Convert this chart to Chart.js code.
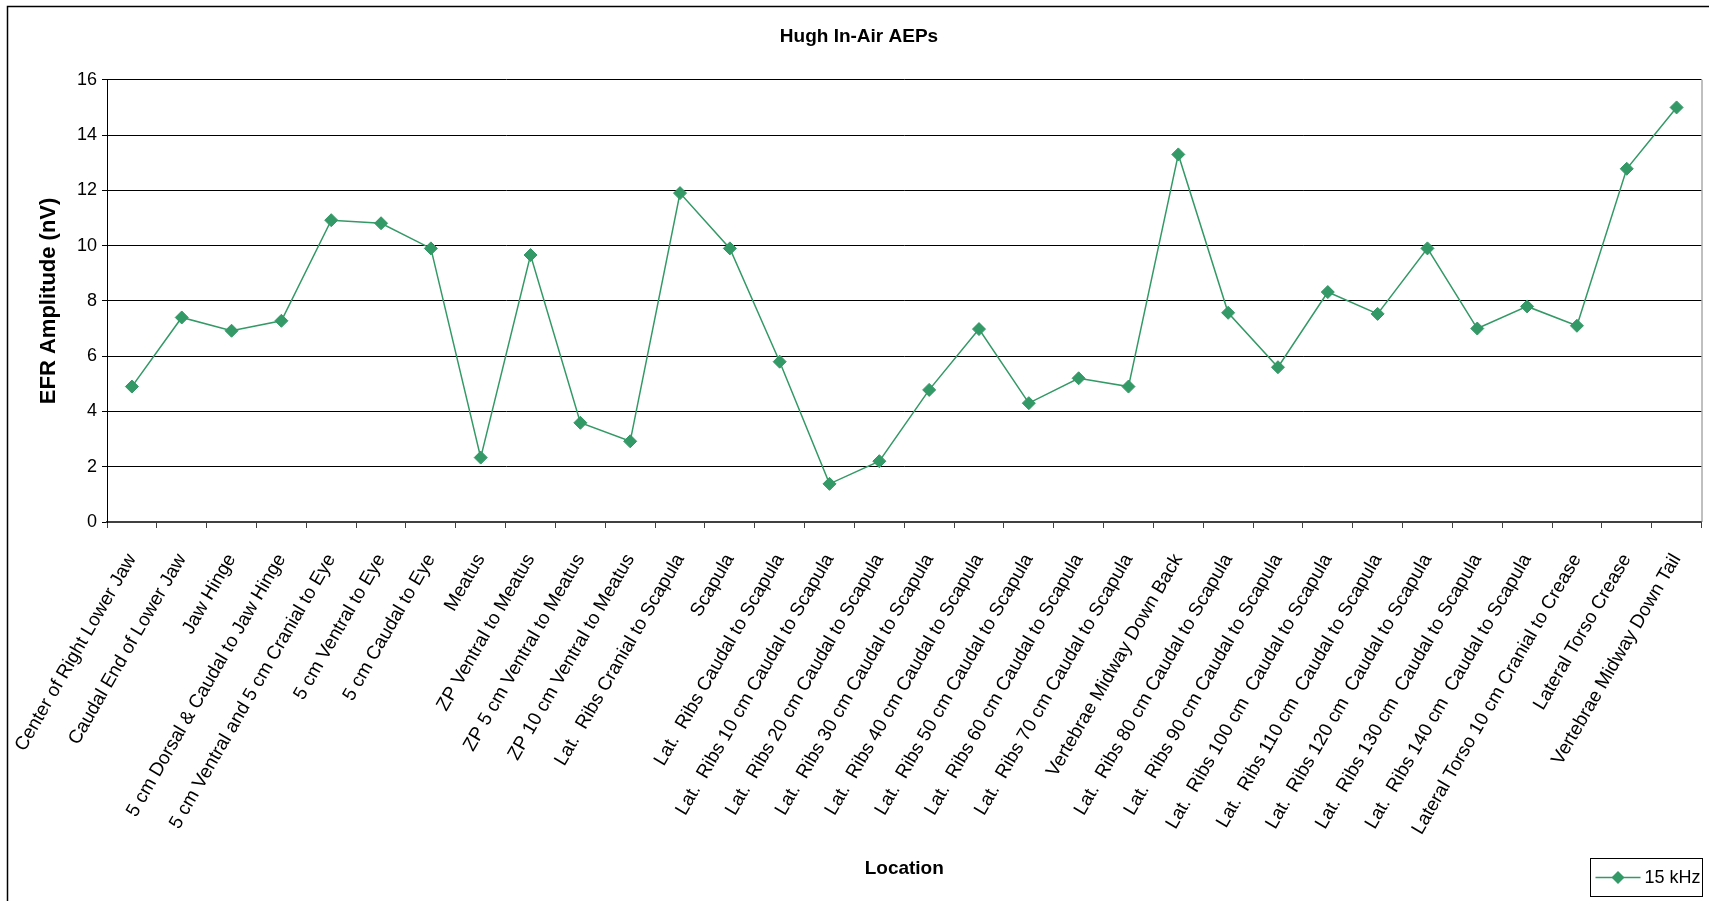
<!DOCTYPE html>
<html>
<head>
<meta charset="utf-8">
<script src="https://cdn.jsdelivr.net/npm/chart.js@4"></script>
<style>
  html, body { margin: 0; padding: 0; background: #fff; }
  #wrap { width: 1709px; height: 901px; }
</style>
</head>
<body>
<div id="wrap"><canvas id="aepChart"></canvas></div>
<script>
const locations = [
    'Center of Right Lower Jaw',
    'Caudal End of Lower Jaw',
    'Jaw Hinge',
    '5 cm Dorsal & Caudal to Jaw Hinge',
    '5 cm Ventral and 5 cm Cranial to Eye',
    '5 cm Ventral to Eye',
    '5 cm Caudal to Eye',
    'Meatus',
    'ZP Ventral to Meatus',
    'ZP 5 cm Ventral to Meatus',
    'ZP 10 cm Ventral to Meatus',
    'Lat.  Ribs Cranial to Scapula',
    'Scapula',
    'Lat.  Ribs Caudal to Scapula',
    'Lat.  Ribs 10 cm Caudal to Scapula',
    'Lat.  Ribs 20 cm Caudal to Scapula',
    'Lat.  Ribs 30 cm Caudal to Scapula',
    'Lat.  Ribs 40 cm Caudal to Scapula',
    'Lat.  Ribs 50 cm Caudal to Scapula',
    'Lat.  Ribs 60 cm Caudal to Scapula',
    'Lat.  Ribs 70 cm Caudal to Scapula',
    'Vertebrae Midway Down Back',
    'Lat.  Ribs 80 cm Caudal to Scapula',
    'Lat.  Ribs 90 cm Caudal to Scapula',
    'Lat.  Ribs 100 cm  Caudal to Scapula',
    'Lat.  Ribs 110 cm  Caudal to Scapula',
    'Lat.  Ribs 120 cm  Caudal to Scapula',
    'Lat.  Ribs 130 cm  Caudal to Scapula',
    'Lat.  Ribs 140 cm  Caudal to Scapula',
    'Lateral Torso 10 cm Cranial to Crease',
    'Lateral Torso Crease',
    'Vertebrae Midway Down Tail'
];

const amp15kHz = [
    4.9, 7.4, 6.92, 7.28, 10.92, 10.81, 9.9, 2.33, 9.66, 3.59, 2.92,
    11.9, 9.9, 5.8, 1.38, 2.2, 4.78, 6.98, 4.3, 5.2, 4.9, 13.3,
    7.57, 5.6, 8.32, 7.53, 9.9, 7.0, 7.8, 7.1, 12.78, 15.0
];

const yTicks = [0, 2, 4, 6, 8, 10, 12, 14, 16];

const seriesName = '15 kHz';
const lineColor = '#339966';
const fontFamily = "'Liberation Sans', Arial, sans-serif";

// white page + outer frame, right frame line of the plot, custom legend box
const framePlugin = {
    id: 'frame',
    beforeDraw(chart) {
        const c = chart.ctx;
        c.save();
        c.fillStyle = '#fff';
        c.fillRect(0, 0, chart.width, chart.height);
        c.strokeStyle = '#000';
        c.lineWidth = 1.5;
        c.strokeRect(7.5, 6.5, chart.width + 10, chart.height + 10);
        c.restore();
    },
    afterDraw(chart) {
        const c = chart.ctx;
        const a = chart.chartArea;
        c.save();
        c.strokeStyle = '#808080';
        c.lineWidth = 1;
        c.beginPath();
        c.moveTo(a.right + 0.5, a.top);
        c.lineTo(a.right + 0.5, a.bottom);
        c.stroke();

        // legend
        const bx = 1590.5, by = 858.5, bw = 112, bh = 38;
        c.strokeStyle = '#000';
        c.strokeRect(bx, by, bw, bh);
        const ly = by + bh / 2;
        c.strokeStyle = lineColor;
        c.lineWidth = 1.5;
        c.beginPath();
        c.moveTo(bx + 5, ly);
        c.lineTo(bx + 50, ly);
        c.stroke();
        c.fillStyle = lineColor;
        c.beginPath();
        c.moveTo(bx + 27.5 - 6.5, ly);
        c.lineTo(bx + 27.5, ly - 6.5);
        c.lineTo(bx + 27.5 + 6.5, ly);
        c.lineTo(bx + 27.5, ly + 6.5);
        c.closePath();
        c.fill();
        c.fillStyle = '#000';
        c.font = '18px ' + fontFamily;
        c.textBaseline = 'middle';
        c.textAlign = 'left';
        c.fillText(seriesName, bx + 54, ly + 1);
        c.restore();
    }
};

const ctx = document.getElementById('aepChart').getContext('2d');

const aepChart = new Chart(ctx, {
    type: 'line',
    data: {
        labels: locations,
        datasets: [{
            label: seriesName,
            data: amp15kHz,
            borderColor: lineColor,
            backgroundColor: lineColor,
            borderWidth: 1.5,
            pointStyle: 'rectRot',
            pointRadius: 6.5,
            pointHoverRadius: 6.5,
            pointBorderWidth: 1,
            tension: 0
        }]
    },
    options: {
        responsive: true,
        maintainAspectRatio: false,
        animation: false,
        layout: {
            padding: { left: 15, right: 6, top: 0, bottom: 0 }
        },
        plugins: {
            legend: { display: false },
            tooltip: { enabled: false },
            title: {
                display: true,
                text: 'Hugh In-Air AEPs',
                color: '#000',
                font: { family: fontFamily, size: 19, weight: 'bold' },
                padding: { top: 25, bottom: 32 }
            }
        },
        scales: {
            x: {
                offset: true,
                grid: {
                    display: true,
                    offset: true,
                    drawOnChartArea: false,
                    drawTicks: true,
                    tickLength: 6,
                    color: '#404040'
                },
                border: { display: true, color: '#404040', width: 2 },
                ticks: {
                    autoSkip: false,
                    maxRotation: 60,
                    minRotation: 60,
                    padding: 22,
                    color: '#000',
                    font: { family: fontFamily, size: 19 }
                },
                title: {
                    display: true,
                    text: 'Location',
                    color: '#000',
                    font: { family: fontFamily, size: 19, weight: 'bold' },
                    padding: { top: 0, bottom: 21 }
                },
                afterFit(scale) {
                    scale.height = 379;
                    scale.paddingLeft = 0;
                    scale.paddingRight = 0;
                }
            },
            y: {
                min: 0,
                max: 16,
                afterBuildTicks(scale) {
                    scale.ticks = yTicks.map(v => ({ value: v }));
                },
                grid: {
                    color: '#000',
                    lineWidth: 1,
                    drawTicks: true,
                    tickLength: 5
                },
                border: { display: true, color: '#000', width: 1 },
                ticks: {
                    padding: 5,
                    color: '#000',
                    font: { family: fontFamily, size: 18 }
                },
                title: {
                    display: true,
                    text: 'EFR Amplitude (nV)',
                    color: '#000',
                    font: { family: fontFamily, size: 22, weight: 'bold' },
                    padding: { top: 21, bottom: 0 }
                },
                afterFit(scale) {
                    scale.width = 92;
                    scale.paddingTop = 0;
                    scale.paddingBottom = 0;
                }
            }
        }
    },
    plugins: [framePlugin]
});
</script>
</body>
</html>
